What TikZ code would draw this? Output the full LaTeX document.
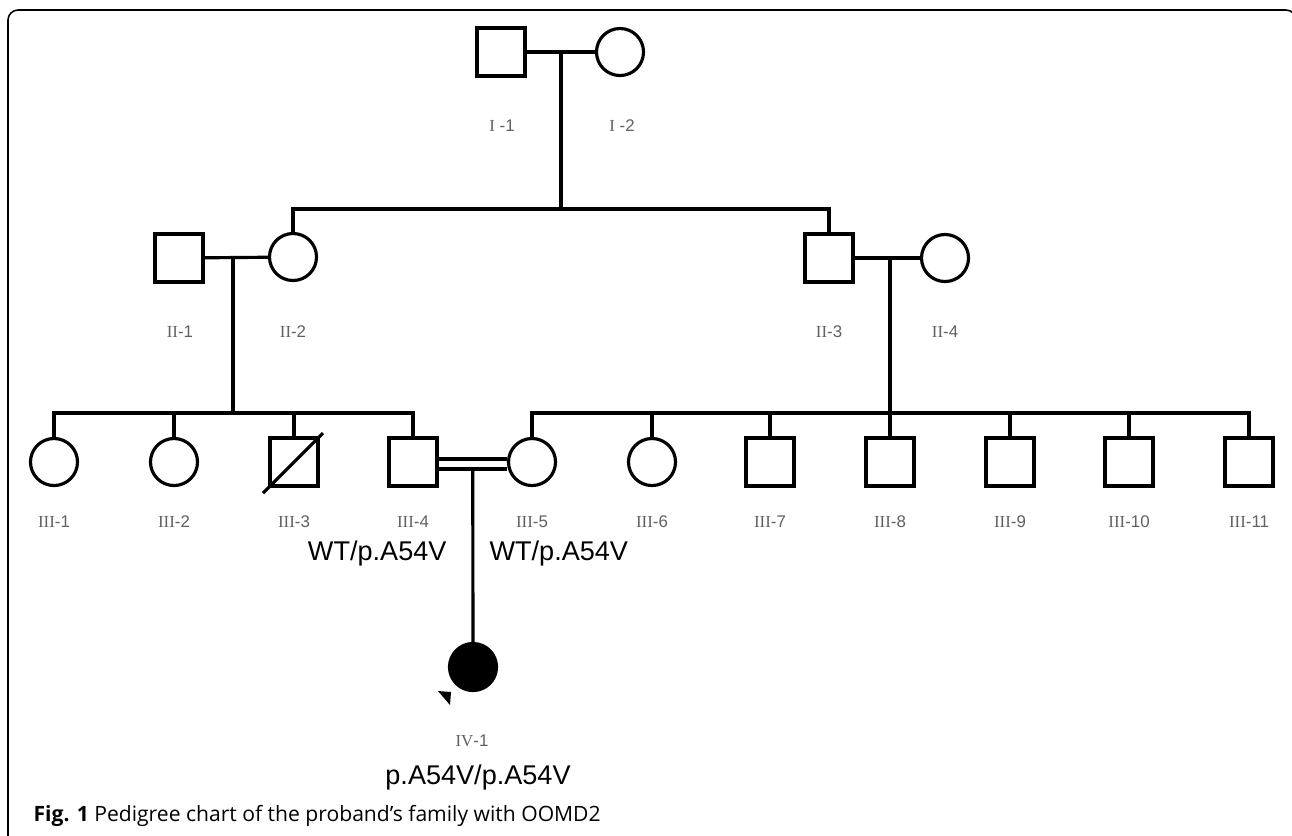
\documentclass[tikz,border=0pt]{standalone}
\usepackage{fontspec}
\setmainfont{Liberation Sans}
\newfontfamily\romfont{Liberation Serif}
\newfontfamily\capfont{Open Sans}
\usepackage{tikz}
\usetikzlibrary{calc}

\begin{document}
\begin{tikzpicture}[x=0.01cm,y=-0.01cm,line width=0.9pt,
    male/.style={draw,rectangle,minimum size=0.48cm,inner sep=0pt},
    female/.style={draw,circle,minimum size=0.47cm,inner sep=0pt},
    genlab/.style={text=black!62,font=\fontsize{4.8}{5}\selectfont,inner sep=0pt},
    geno/.style={font=\fontsize{7.7}{9}\selectfont,inner sep=0pt}]
    \useasboundingbox (0,0) rectangle (1292,835);
    \draw[line width=0.45pt,rounded corners=0.1cm] (8,848) -- (8,10) -- (1296,10) -- (1296,848);
    % generation I
    \node[male] (p11) at (501,52) {};
    \node[female] (p12) at (620,52) {};
    \node[genlab] (l11) at (502,126) {{\romfont I} -1};
    \node[genlab] (l12) at (622,126) {{\romfont I} -2};
    \draw (p11) -- (p12);
    \coordinate (m1) at (561,52);
    \coordinate (s1) at (561,209);
    \draw (m1) -- (s1);
    % generation II
    \node[male] (p21) at (179,258) {};
    \node[female] (p22) at (293,257) {};
    \node[male] (p23) at (829,258) {};
    \node[female] (p24) at (945,258) {};
    \node[genlab] (l21) at (180,332) {{\romfont II}-1};
    \node[genlab] (l22) at (293,332) {{\romfont II}-2};
    \node[genlab] (l23) at (829,332) {{\romfont II}-3};
    \node[genlab] (l24) at (945,332) {{\romfont II}-4};
    \draw (p22) |- (s1) -| (p23);
    \draw (p21) -- (p22);
    \draw (p23) -- (p24);
    \coordinate (m2) at (233,257);
    \coordinate (s2) at (233,413);
    \coordinate (m3) at (890,258);
    \coordinate (s3) at (890,413);
    \draw (m2) -- (s2);
    \draw (m3) -- (s3);
    % generation III
    \foreach \x/\k/\s in {54/1/female,174/2/female,294/3/male,413/4/male,532/5/female,652/6/female,
                          770/7/male,890/8/male,1010/9/male,1129/10/male,1249/11/male}{
        \node[\s] (p3\k) at (\x,462) {};
        \node[genlab] (l3\k) at (\x,522) {{\romfont III}-\k};
    }
    \draw (p31) |- (s2) -| (p34);
    \foreach \k in {2,3} {\draw (p3\k) -- (p3\k |- s2);}
    \draw (p35) |- (s3) -| (p311);
    \foreach \k in {6,...,10} {\draw (p3\k) -- (p3\k |- s3);}
    \draw ($(p33)+(-31,31)$) -- ($(p33)+(29,-29)$);
    \draw ($(p34.east)+(0,-3)$) -- ($(p35.west)+(0,-3)$);
    \draw ($(p34.east)+(0,7)$) -- ($(p35.west)+(0,7)$);
    \coordinate (m34) at ($(p34.east)!0.5!(p35.west)+(0,7)$);
    \node[geno,anchor=east] (g34) at (448,553) {WT/p.A54V};
    \node[geno,anchor=west] (g35) at (488,553) {WT/p.A54V};
    % generation IV
    \node[female,fill=black] (p41) at (473,667) {};
    \draw (m34) -- (p41);
    \fill (438,691) -- (451,692) -- (450,705) -- cycle;
    \node[genlab] (l41) at (472,741) {{\romfont IV}-1};
    \node[geno] (g41) at (478,777) {p.A54V/p.A54V};
    \node[anchor=west,inner sep=0pt,font=\capfont\fontsize{6}{7}\selectfont] (cap) at (32,816)
        {\textbf{Fig. 1} Pedigree chart of the proband’s family with OOMD2};
\end{tikzpicture}
\end{document}
